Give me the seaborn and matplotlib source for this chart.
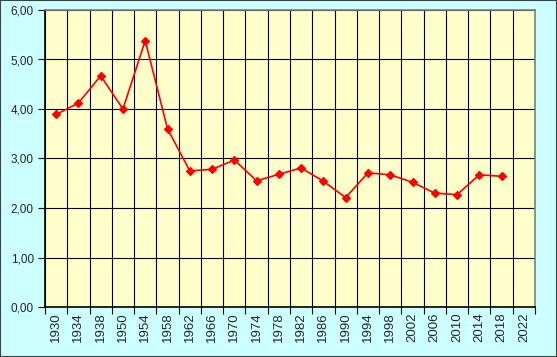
import numpy as np
import pandas as pd
import seaborn as sns
import matplotlib.pyplot as plt
from matplotlib.ticker import FixedLocator, FuncFormatter, MultipleLocator
from matplotlib.patches import Rectangle

years = ['1930', '1934', '1938', '1950', '1954', '1958', '1962', '1966', '1970', '1974', '1978',
         '1982', '1986', '1990', '1994', '1998', '2002', '2006', '2010', '2014', '2018', '2022']
goals = [3.89, 4.12, 4.67, 4.00, 5.38, 3.60, 2.75, 2.78, 2.97, 2.55, 2.68,
         2.81, 2.54, 2.21, 2.71, 2.67, 2.52, 2.30, 2.27, 2.67, 2.64, np.nan]

df = pd.DataFrame({'year': years, 'goals': goals})

sns.set_style('white')
plt.rcParams['font.family'] = ['Liberation Sans', 'DejaVu Sans']

fig = plt.figure(figsize=(5.57, 3.57), dpi=100, facecolor='#ccffff')
ax = fig.add_axes([45 / 557, 50 / 357, 490 / 557, 297 / 357])
ax.set_facecolor('#ffffcc')

sns.pointplot(data=df.dropna(), x='year', y='goals', order=years, color='#ff0000',
              markers='D', markersize=4.3, linewidth=1.2, errorbar=None, ax=ax)

ax.set_xlim(-0.5, len(years) - 0.5)
ax.set_ylim(0, 6)
ax.yaxis.set_major_locator(MultipleLocator(1))
ax.yaxis.set_major_formatter(FuncFormatter(lambda v, p: f'{v:.2f}'.replace('.', ',')))
ax.xaxis.set_minor_locator(FixedLocator(np.arange(-0.5, len(years), 1)))
ax.grid(True, which='major', axis='y', color='#000000', linewidth=0.8)
ax.grid(True, which='minor', axis='x', color='#000000', linewidth=0.8)
ax.grid(False, which='major', axis='x')
ax.tick_params(axis='x', which='major', length=0, labelrotation=90, labelsize=9.5, pad=4)
ax.tick_params(axis='x', which='minor', length=5, width=0.8, color='#000000', bottom=True)
ax.tick_params(axis='y', length=5, width=0.8, color='#000000', left=True, labelsize=8.5, pad=3)
ax.set_xlabel('')
ax.set_ylabel('')
for s in ax.spines.values():
    s.set_color('#808080')
    s.set_linewidth(1.2)
ax.spines['left'].set_color('#000000')
ax.spines['bottom'].set_color('#000000')

fig.patches.append(Rectangle((0, 0), 1, 1, transform=fig.transFigure, fill=False,
                             edgecolor='#404040', linewidth=1.5))

fig.savefig('out.png', dpi=100, facecolor=fig.get_facecolor())
